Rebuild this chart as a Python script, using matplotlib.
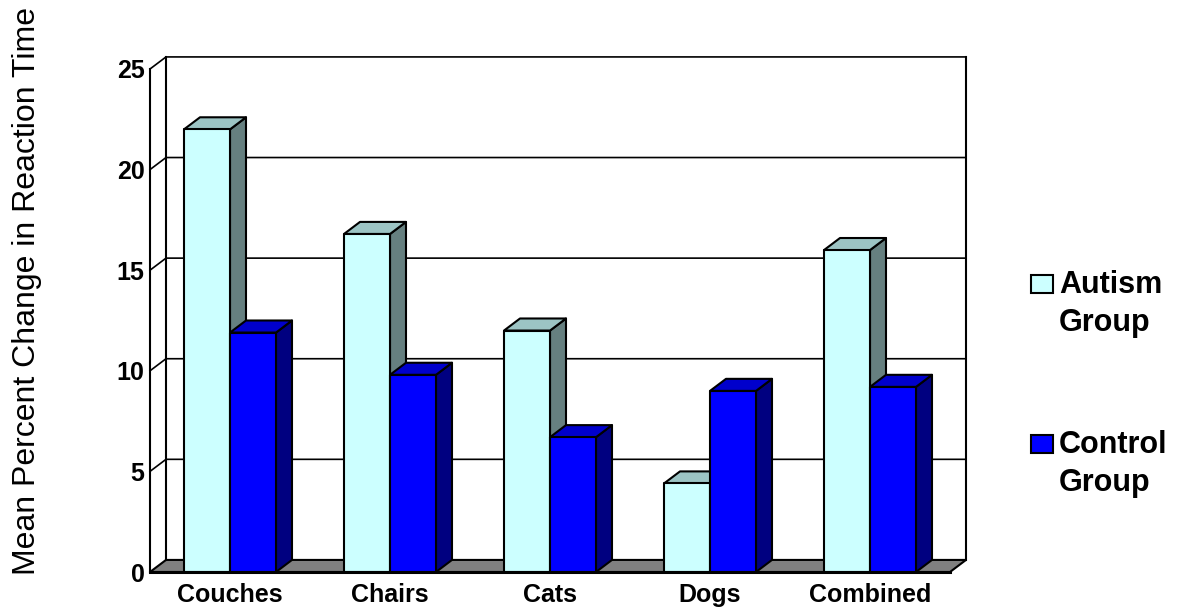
import numpy as np
import matplotlib
matplotlib.use("Agg")
import matplotlib.pyplot as plt
from matplotlib.patches import Polygon, Rectangle

categories = ["Couches", "Chairs", "Cats", "Dogs", "Combined"]
autism = [22.0, 16.8, 12.0, 4.4, 16.0]
control = [11.9, 9.8, 6.7, 9.0, 9.2]
yticks = [0, 5, 10, 15, 20, 25]
series_names = ["Autism\nGroup", "Control\nGroup"]

plt.rcParams["font.family"] = ["Liberation Sans", "DejaVu Sans"]

W, H = 1181, 611
fig = plt.figure(figsize=(W / 100, H / 100), dpi=100)
# axes spans the front plane of the 3D box
ax = fig.add_axes([150 / W, (H - 572) / H, 800 / W, 503 / H])
ax.set_xlim(0, 5)
ax.set_ylim(0, 25)

DX, DY = 0.1, 0.6  # depth offset in data units
BW = 0.2875

faces = {
    "autism": ("#CCFFFF", "#9CC4C4", "#668080"),
    "control": ("#0000FF", "#0000CC", "#000080"),
}


def add_poly(pts, fc, z):
    ax.add_patch(Polygon(pts, closed=True, facecolor=fc, edgecolor="black",
                         lw=1.5, clip_on=False, zorder=z, joinstyle="round"))


# walls and floor
add_poly([(0, 0), (5, 0), (5 + DX, DY), (DX, DY)], "#808080", 1)
ax.plot([DX, DX], [DY, 25 + DY], color="black", lw=1.5, clip_on=False, zorder=1)
ax.plot([5 + DX, 5 + DX], [DY, 25 + DY], color="black", lw=1.5, clip_on=False, zorder=1)
for t in yticks[1:]:
    ax.plot([0, DX, 5 + DX], [t, t + DY, t + DY], color="black", lw=1.2,
            clip_on=False, zorder=1)

# bars
for i in range(len(categories)):
    for key, vals, x0 in (("autism", autism, i + 0.5 - BW), ("control", control, i + 0.5)):
        v = vals[i]
        front, top, side = faces[key]
        add_poly([(x0 + BW, 0), (x0 + BW + DX, DY), (x0 + BW + DX, v + DY), (x0 + BW, v)], side, 3)
        add_poly([(x0, v), (x0 + BW, v), (x0 + BW + DX, v + DY), (x0 + DX, v + DY)], top, 3)
        add_poly([(x0, 0), (x0 + BW, 0), (x0 + BW, v), (x0, v)], front, 3)

ax.plot([0, 5], [0, 0], color="black", lw=2.2, clip_on=False, zorder=4)

for s in ["top", "right", "bottom"]:
    ax.spines[s].set_visible(False)
ax.spines["left"].set_linewidth(1.5)
ax.set_facecolor("none")
ax.set_yticks(yticks)
ax.set_yticklabels([str(t) for t in yticks], fontsize=18, fontweight="bold")
ax.set_xticks(np.arange(len(categories)) + 0.5)
ax.set_xticklabels(categories, fontsize=18, fontweight="bold")
ax.tick_params(axis="y", length=0, pad=4)
ax.tick_params(axis="x", length=0, pad=8)

fig.text(27 / W, (H - 291) / H, "Mean Percent Change in Reaction Time",
         rotation=90, ha="center", va="center", fontsize=23)

# legend
for (name, key, yc) in zip(series_names, ["autism", "control"], [284, 444]):
    fig.patches.append(Rectangle(((1031) / W, (H - yc - 9) / H), 22 / W, 18 / H,
                                 transform=fig.transFigure, facecolor=faces[key][0],
                                 edgecolor="black", lw=1.5))
    fig.text(1059 / W, (H - yc - 20) / H, name, ha="left", va="center",
             fontsize=22, fontweight="bold", linespacing=1.35)

fig.savefig("out.png", dpi=100)
